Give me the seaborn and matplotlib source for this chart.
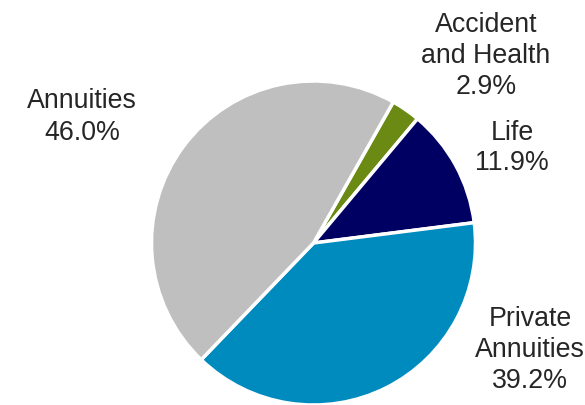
import matplotlib
matplotlib.use("Agg")
import matplotlib.pyplot as plt
import seaborn as sns

sns.set_theme(style="white")
plt.rcParams['font.family'] = ['Liberation Sans', 'DejaVu Sans']

categories = ["Accident\nand Health", "Life", "Private\nAnnuities", "Annuities"]
values = [2.9, 11.9, 39.2, 46.0]
colors = ["#6A8A14", "#000062", "#008BBF", "#BFBFBF"]
# label anchor positions (pixels, from top-left)
label_px = [(486, 56), (512, 148), (530, 350), (82, 117)]

W, H = 585, 405
fig = plt.figure(figsize=(W / 100, H / 100), dpi=100)
cx, cy, r = 313.5, 243, 162
ax = fig.add_axes([(cx - r) / W, (H - cy - r) / H, 2 * r / W, 2 * r / H])
ax.pie(values, colors=colors, startangle=60.5, counterclock=False,
       radius=1, wedgeprops=dict(edgecolor="white", linewidth=2.5))
ax.set_xlim(-1, 1)
ax.set_ylim(-1, 1)
ax.set_aspect("equal")
ax.axis("off")

for cat, val, (px, py) in zip(categories, values, label_px):
    fig.text(px / W, 1 - py / H, f"{cat}\n{val:.1f}%", ha="center", va="center",
             fontsize=19.3, color="#262626", linespacing=1.25)

fig.savefig("out.png", dpi=100)
